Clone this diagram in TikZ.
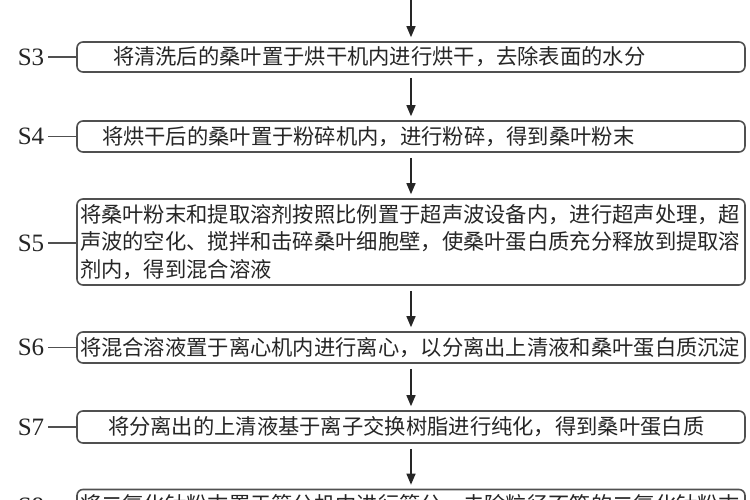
\documentclass[tikz,border=0pt]{standalone}
\usepackage{fontspec}
\setmainfont{Liberation Serif}
\newfontfamily\cjk{Noto Sans CJK SC}
\usetikzlibrary{arrows.meta}
\definecolor{boxline}{HTML}{505050}
\definecolor{txt}{HTML}{262626}
\tikzset{
  stepbox/.style={draw=boxline, line width=1.6pt, rounded corners=6pt,
    minimum height=#1, text width=662pt, inner xsep=3pt, inner ysep=0pt,
    align=left, font=\cjk\fontsize{21.3}{27.5}\selectfont, text=txt},
  steplab/.style={font=\fontsize{25}{25}\selectfont, text=txt, inner xsep=4pt, inner ysep=0pt},
  joinline/.style={draw=boxline, line width=1.4pt},
  flowarr/.style={draw=black!85, line width=1.4pt, -{Triangle[length=11pt,width=9pt]},
    shorten <=5pt, shorten >=4pt}
}
\begin{document}
\begin{tikzpicture}[x=1pt,y=-1pt]
\useasboundingbox (0,0) rectangle (750,500);
\clip (0,0) rectangle (750,500);
\fill[white] (0,0) rectangle (750,500);

\node[stepbox=30pt] (b3) at (411,57) {\hspace*{33pt}将清洗后的桑叶置于烘干机内进行烘干，去除表面的水分};
\node[stepbox=31pt] (b4) at (411,136.5) {\hspace*{22pt}将烘干后的桑叶置于粉碎机内，进行粉碎，得到桑叶粉末};
\node[stepbox=86pt] (b5) at (411,242) {将桑叶粉末和提取溶剂按照比例置于超声波设备内，进行超声处理，超\\声波的空化、搅拌和击碎桑叶细胞壁，使桑叶蛋白质充分释放到提取溶\\剂内，得到混合溶液};
\node[stepbox=31pt] (b6) at (411,347.5) {将混合溶液置于离心机内进行离心，以分离出上清液和桑叶蛋白质沉淀};
\node[stepbox=32pt] (b7) at (411,427) {\hspace*{28pt}将分离出的上清液基于离子交换树脂进行纯化，得到桑叶蛋白质};
\node[stepbox=31pt] (b8) at (411,505) {将二氧化钛粉末置于筛分机中进行筛分，去除粒径不符的二氧化钛粉末};

\node[steplab] (l3) at (31,57) {S3};
\node[steplab] (l4) at (31,136.5) {S4};
\node[steplab] (l5) at (31,243) {S5};
\node[steplab] (l6) at (31,347.5) {S6};
\node[steplab] (l7) at (31,427) {S7};
\node[steplab] (l8) at (31,506) {S8};

\draw[joinline] (l3.east) -- (b3.west);
\draw[joinline] (l4.east) -- (b4.west);
\draw[joinline] (l5.east) -- (b5.west |- l5.east);
\draw[joinline] (l6.east) -- (b6.west);
\draw[joinline] (l7.east) -- (b7.west);
\draw[joinline] (l8.east) -- (b8.west |- l8.east);

\coordinate (top) at (411,-6);
\draw[flowarr] (top) -- (b3.north);
\draw[flowarr] (b3.south) -- (b4.north);
\draw[flowarr] (b4.south) -- (b5.north);
\draw[flowarr] (b5.south) -- (b6.north);
\draw[flowarr] (b6.south) -- (b7.north);
\draw[flowarr] (b7.south) -- (b8.north);
\end{tikzpicture}
\end{document}
